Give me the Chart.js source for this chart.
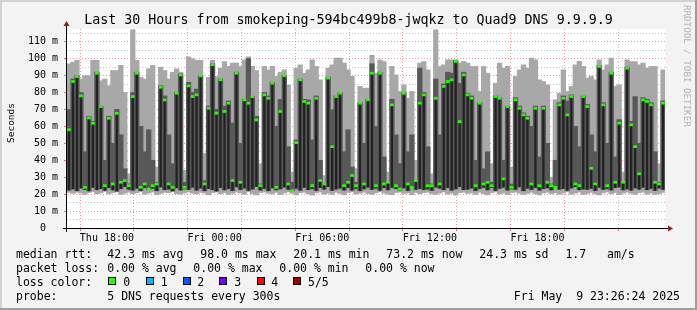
<!DOCTYPE html>
<html>
<head>
<meta charset="utf-8">
<script src="https://cdn.jsdelivr.net/npm/chart.js@4.4.1/dist/chart.umd.min.js"></script>
<style>
    body { margin: 0; background: #f3f3f3; }
    #wrap { position: relative; width: 697px; height: 310px; overflow: hidden; background: #f3f3f3; }
    #smoke { position: absolute; left: 0; top: 0; }
    .txt { position: absolute; font-family: 'DejaVu Sans Mono', monospace; white-space: pre; color: #000; line-height: 1; }
    .lg { font-size: 11.5px; }
    .box { position: absolute; width: 8px; height: 8px; box-sizing: border-box; border: 1px solid #000; }
    .edge { position: absolute; }
</style>
</head>
<body>
<div id="wrap">
    <canvas id="smoke" width="697" height="310"></canvas>

    <div class="edge" style="left:0;top:0;width:697px;height:2px;background:#d2d2d2"></div>
    <div class="edge" style="left:0;top:0;width:2px;height:310px;background:#d2d2d2"></div>
    <div class="edge" style="left:695px;top:0;width:2px;height:310px;background:#9e9e9e"></div>
    <div class="edge" style="left:0;top:308px;width:697px;height:2px;background:#9e9e9e"></div>

    <div class="txt" style="left:0;width:697px;text-align:center;top:12.6px;font-size:13.3px">Last 30 Hours from smokeping-594bc499b8-jwqkz to Quad9 DNS 9.9.9.9</div>
    <div class="txt" style="left:10.5px;top:122.5px;font-size:9.5px;transform:translate(-50%,-50%) rotate(-90deg)">Seconds</div>
    <div class="txt" style="left:683px;top:5px;font-size:9.2px;color:#b4b4b4;writing-mode:vertical-rl">RRDTOOL / TOBI OETIKER</div>

    <div class="txt lg" style="left:16px;top:249.3px">median rtt:</div>
    <div class="txt lg" style="left:107.3px;top:249.3px">42.3 ms avg</div>
    <div class="txt lg" style="left:200.3px;top:249.3px">98.0 ms max</div>
    <div class="txt lg" style="left:293.3px;top:249.3px">20.1 ms min</div>
    <div class="txt lg" style="left:386.3px;top:249.3px">73.2 ms now</div>
    <div class="txt lg" style="left:479.3px;top:249.3px">24.3 ms sd</div>
    <div class="txt lg" style="left:565.4px;top:249.3px">1.7</div>
    <div class="txt lg" style="left:607px;top:249.3px">am/s</div>

    <div class="txt lg" style="left:16px;top:262.8px">packet loss:</div>
    <div class="txt lg" style="left:107.3px;top:262.8px">0.00 % avg</div>
    <div class="txt lg" style="left:193.3px;top:262.8px">0.00 % max</div>
    <div class="txt lg" style="left:279.3px;top:262.8px">0.00 % min</div>
    <div class="txt lg" style="left:365.3px;top:262.8px">0.00 % now</div>

    <div class="txt lg" style="left:16px;top:276.8px">loss color:</div>
    <div id="lossLegend"></div>

    <div class="txt lg" style="left:16px;top:290.8px">probe:</div>
    <div class="txt lg" style="left:107.3px;top:290.8px">5 DNS requests every 300s</div>
    <div class="txt lg" style="right:17px;top:290.8px">Fri May  9 23:26:24 2025</div>
</div>
<script>
// one column = 12 minutes, starting Thu 17:26:24 (minutes relative to Thu 18:00)
const slotStartMin = -33.6;
const slotMinutes = 12;

// top of the light smoke (slowest ping), ms
const maxRtt = [
    97, 98, 99, 88, 90, 90, 99, 99, 87, 88,
    84, 93, 93, 96, 80, 32, 117, 99, 89, 88,
    94, 96, 36, 95, 93, 88, 92, 94, 92, 34,
    101, 100, 99, 99, 44, 89, 99, 89.5, 94.4, 98.3,
    95.4, 97.4, 97.4, 95.4, 99.3, 101, 95.4, 93, 38, 95.4,
    93.4, 95.4, 89.5, 92, 93.4, 84.5, 33, 94.4, 96.4, 91.4,
    93.4, 99.3, 95.4, 87.5, 31, 94.4, 96.4, 100.3, 100.3, 97.4,
    93.4, 89.5, 35, 83.6, 82.6, 82.6, 102, 91.4, 99.3, 98.3,
    33, 95.4, 90.4, 80.6, 84.5, 76.6, 80.6, 40, 97.4, 98.3,
    93.4, 32, 117, 95.4, 96.4, 99.3, 99.3, 99.3, 97.4, 98.4,
    97.4, 95.4, 95.4, 80.6, 95.4, 91.4, 38, 85.5, 97.4, 94.4,
    95.4, 36, 89.5, 93.4, 96.4, 94.4, 100.3, 99.3, 87.5, 86.5,
    84.5, 30, 75.7, 79.6, 93.4, 80.6, 83.6, 96.4, 98.4, 95.4,
    88.5, 89.5, 87.5, 99.3, 93.4, 96.4, 100.3, 83.6, 84.5, 33,
    99.3, 98.3, 98.3, 96.4, 97.4, 94.4, 95.4, 95.4, 38, 93.4
];

// top of the dark smoke, ms
const upRtt = [
    70, 88, 90, 80, 45, 66, 63, 92, 72, 40,
    66, 50, 70, 55, 35, 26, 80, 92, 60, 45,
    58, 40, 27, 84, 78, 55, 38, 80, 91, 27,
    86, 80, 82, 90, 28, 72, 97, 70, 88, 72,
    75, 62, 92, 50, 76, 100, 77.6, 66, 26, 80,
    78, 86, 60, 76, 90, 48, 27, 52, 88, 76,
    75.7, 52, 78, 40, 26, 89, 69.8, 78, 80, 45,
    58, 36, 27, 74, 50, 76, 97, 60, 92, 42,
    27, 76, 55, 38, 80, 45, 55, 28, 94.4, 80,
    48, 26, 88, 55, 85, 92, 91.4, 99, 85.5, 92,
    79.6, 78, 40, 74, 35, 45, 27, 78, 77, 40,
    72, 26, 77, 72, 68, 66, 60, 72, 42, 72,
    50, 26, 40, 74, 78, 75, 78.6, 60, 48, 78,
    73, 55, 45, 96, 74, 50, 92, 42, 64, 27,
    95, 63, 77.6, 50, 77, 76, 74, 45, 27, 75
];

// median rtt (green marks), ms
const medRtt = [
    58, 86.5, 89.4, 78, 24, 65, 61.8, 91.4, 71.7, 25,
    64.8, 26, 67.7, 27, 28, 25, 77.6, 91.4, 24, 26,
    23, 25, 26, 83.1, 75.6, 26, 24, 79.6, 90.4, 24,
    83.9, 77.6, 78.6, 89.8, 26, 70.7, 96.4, 67.8, 87.5, 68.8,
    73.7, 28, 91.4, 27, 75.7, 73.7, 77.6, 63.8, 25, 78.6,
    76.6, 85.5, 24, 68.8, 89.9, 26, 22, 50.4, 87.5, 74.7,
    73.7, 25, 76.6, 28, 26, 88.5, 48, 77.6, 79.6, 25,
    27, 31, 25, 73.7, 26, 75.7, 91.4, 25, 91.4, 26,
    27, 72.7, 25, 23, 79.6, 26, 24, 28, 73.7, 78.6,
    25, 25, 76.6, 26, 83.6, 86.5, 87.5, 98.4, 62.8, 90.4,
    78.6, 76.6, 25, 73.7, 26, 27, 25, 77.6, 76.6, 29,
    71.7, 24, 75.7, 70.7, 66.8, 64.8, 26, 70.7, 25, 70.7,
    27, 25, 24, 72.7, 76.6, 66.8, 77.6, 26, 25, 77.6,
    71.7, 35.2, 26, 95.4, 72.7, 25, 91.4, 27, 61.9, 27,
    94.4, 60.9, 48, 32, 75.7, 74.7, 72.7, 27, 26, 73.7
];

// bottom of the dark smoke, ms
const lowRtt = [
    22.4, 23.1, 22.0, 23.6, 22.8, 21.9, 24.0, 22.6, 23.3, 22.2,
    23.8, 22.5, 21.8, 23.2, 24.4, 22.9, 22.3, 23.5, 22.1, 23.9,
    22.7, 23.4, 22.0, 24.2, 22.6, 23.0, 21.9, 23.7, 22.4, 23.1,
    22.8, 24.1, 22.3, 23.5, 22.0, 23.3, 22.6, 21.8, 23.9, 22.5,
    23.2, 22.1, 24.3, 22.7, 23.6, 22.2, 23.0, 24.5, 22.4, 23.4,
    22.0, 23.7, 22.5, 23.1, 24.2, 22.8, 21.9, 23.5, 22.3, 24.0,
    22.6, 23.3, 22.1, 23.8, 22.9, 24.4, 22.2, 23.0, 23.6, 22.4,
    23.9, 22.3, 23.4, 22.0, 23.1, 24.1, 22.7, 23.5, 22.2, 23.8,
    22.5, 24.0, 23.2, 22.4, 23.7, 22.1, 24.3, 22.8, 23.3, 22.6,
    23.0, 22.2, 24.2, 23.5, 22.6, 23.9, 22.3, 23.1, 24.4, 22.7,
    22.9, 23.6, 22.1, 23.3, 24.0, 22.5, 23.8, 22.2, 23.4, 24.1,
    22.4, 23.1, 22.8, 24.3, 22.0, 23.5, 22.7, 23.9, 22.3, 23.2,
    23.7, 22.5, 24.1, 22.9, 23.3, 22.2, 23.6, 24.4, 22.6, 23.0,
    22.8, 23.4, 22.1, 24.0, 22.7, 23.2, 22.4, 23.8, 24.2, 22.5,
    23.1, 22.3, 23.7, 22.9, 24.1, 22.6, 23.4, 22.2, 23.6, 22.8
];

// bottom of the light smoke (fastest ping), ms
const minRtt = [
    21.0, 20.4, 21.2, 20.6, 19.8, 20.9, 21.4, 20.2, 20.7, 21.6,
    20.1, 20.8, 21.3, 19.9, 20.5, 21.1, 20.3, 20.9, 21.5, 20.0,
    20.6, 21.2, 19.7, 20.4, 21.0, 20.8, 21.4, 20.2, 19.9, 20.7,
    21.3, 20.5, 20.1, 21.0, 20.6, 19.6, 20.9, 21.2, 20.3, 20.8,
    19.8, 20.4, 21.1, 20.7, 20.0, 21.5, 20.2, 19.5, 20.9, 21.2,
    20.5, 20.1, 21.0, 19.7, 20.6, 21.3, 20.4, 19.6, 20.8, 21.1,
    20.2, 19.4, 20.7, 21.2, 20.0, 20.6, 19.8, 21.0, 20.4, 19.5,
    20.9, 21.3, 20.1, 20.5, 21.1, 20.3, 19.9, 20.8, 21.4, 20.6,
    20.0, 19.7, 20.9, 21.2, 20.4, 20.7, 19.6, 21.0, 20.3, 20.8,
    21.1, 20.2, 19.8, 20.6, 21.3, 20.0, 20.5, 19.4, 20.9, 21.2,
    20.4, 20.7, 19.9, 21.0, 20.3, 19.6, 20.8, 21.3, 20.1, 20.6,
    19.7, 20.9, 21.2, 20.5, 19.8, 20.4, 21.0, 20.2, 19.5, 20.7,
    21.1, 20.3, 20.8, 19.9, 20.6, 21.4, 20.0, 20.5, 21.2, 19.8,
    20.4, 21.0, 20.1, 19.6, 20.7, 21.3, 20.2, 20.9, 19.7, 20.5,
    21.1, 20.4, 19.9, 20.8, 21.2, 20.0, 20.6, 19.8, 20.3, 21.0
];

// x axis: labelled ticks (minutes from Thu 18:00)
const tickValues = [0, 360, 720, 1080, 1440];
const tickLabels = ['Thu 18:00', 'Fri 00:00', 'Fri 06:00', 'Fri 12:00', 'Fri 18:00'];

// loss colour legend
const lossLabels = ['0', '1', '2', '3', '4', '5/5'];
const lossColors = ['#26ff00', '#00b8ff', '#0059ff', '#7e00ff', '#ff0000', '#a00000'];
const lossBoxX = [108.3, 145.7, 182.7, 219.3, 256.7, 293.3];
const lossTextX = [123.3, 160.7, 197.3, 234.3, 271.3, 308];

const lossLegend = document.getElementById('lossLegend');
lossLabels.forEach(function (label, i) {
    const box = document.createElement('div');
    box.className = 'box';
    box.style.left = lossBoxX[i] + 'px';
    box.style.top = '277px';
    box.style.background = lossColors[i];
    lossLegend.appendChild(box);
    const t = document.createElement('div');
    t.className = 'txt lg';
    t.style.left = lossTextX[i] + 'px';
    t.style.top = '276.8px';
    t.textContent = label;
    lossLegend.appendChild(t);
});

const dayNames = ['Thu', 'Fri'];
const slotLabels = maxRtt.map(function (_, i) {
    const m = slotStartMin + 18 * 60 + i * slotMinutes;
    const d = Math.floor(m / 1440);
    const mm = Math.floor(m - d * 1440);
    return dayNames[d] + ' ' + String(Math.floor(mm / 60)).padStart(2, '0') + ':' + String(mm % 60).padStart(2, '0');
});

const hourTicks = [];
for (let h = 0; h <= 1740; h += 60) hourTicks.push(h);

const majorGrid = 'rgba(225, 90, 90, 0.6)';
const minorGrid = 'rgba(150, 150, 150, 0.55)';
const monoFont = { family: 'DejaVu Sans Mono', size: 10 };

// white plot area, axis lines and arrows like rrdtool
const framePlugin = {
    id: 'frame',
    beforeDraw: function (chart) {
        const a = chart.chartArea;
        const c = chart.ctx;
        c.save();
        c.fillStyle = '#ffffff';
        c.fillRect(a.left, a.top, a.right - a.left, a.bottom - a.top);
        c.restore();
    },
    afterDraw: function (chart) {
        const a = chart.chartArea;
        const c = chart.ctx;
        c.save();
        c.strokeStyle = '#000000';
        c.lineWidth = 1;
        c.beginPath();
        c.moveTo(a.left - 4, a.bottom + 0.5);
        c.lineTo(a.right + 4, a.bottom + 0.5);
        c.moveTo(a.left - 0.5, a.bottom + 4);
        c.lineTo(a.left - 0.5, a.top - 4);
        c.stroke();
        c.fillStyle = '#a01818';
        c.beginPath();
        c.moveTo(a.right + 8, a.bottom + 0.5);
        c.lineTo(a.right + 3, a.bottom - 2.5);
        c.lineTo(a.right + 3, a.bottom + 3.5);
        c.closePath();
        c.fill();
        c.beginPath();
        c.moveTo(a.left - 0.5, a.top - 8);
        c.lineTo(a.left - 3.5, a.top - 3);
        c.lineTo(a.left + 2.5, a.top - 3);
        c.closePath();
        c.fill();
        c.restore();
    }
};

new Chart(document.getElementById('smoke'), {
    type: 'bar',
    data: {
        labels: slotLabels,
        datasets: [
            {
                label: 'smoke outer',
                data: maxRtt.map(function (v, i) { return [minRtt[i], v]; }),
                backgroundColor: '#a8a8a8',
                barThickness: 4.6,
                grouped: false,
                order: 4
            },
            {
                label: 'smoke inner',
                data: upRtt.map(function (v, i) { return [lowRtt[i], v]; }),
                backgroundColor: '#585858',
                barThickness: 4.6,
                grouped: false,
                order: 3
            },
            {
                label: 'core',
                data: medRtt.map(function (v, i) { return [lowRtt[i], v]; }),
                backgroundColor: '#222222',
                barThickness: 1.6,
                grouped: false,
                order: 2
            },
            {
                label: 'median rtt',
                data: medRtt.map(function (v) { return [v - 0.6, v + 0.6]; }),
                backgroundColor: '#26ff00',
                barThickness: 3,
                grouped: false,
                order: 1
            }
        ]
    },
    options: {
        responsive: false,
        animation: false,
        devicePixelRatio: 1,
        events: [],
        layout: { padding: { top: 29, right: 32, left: 0, bottom: 0 } },
        plugins: {
            legend: { display: false },
            tooltip: { enabled: false },
            title: { display: false }
        },
        scales: {
            x: {
                type: 'category',
                display: false,
                offset: true
            },
            time: {
                type: 'linear',
                position: 'bottom',
                min: slotStartMin,
                max: slotStartMin + 1800,
                afterBuildTicks: function (scale) {
                    scale.ticks = hourTicks.map(function (v) { return { value: v }; });
                },
                afterFit: function (scale) { scale.height = 82; },
                border: { display: false, dash: [1, 2] },
                grid: {
                    color: function (c) { return c.tick && c.tick.value % 180 === 0 ? majorGrid : minorGrid; },
                    tickColor: 'rgba(200, 60, 60, 0.7)',
                    tickLength: 3,
                    tickBorderDash: []
                },
                ticks: {
                    autoSkip: false,
                    maxRotation: 0,
                    padding: 1,
                    color: '#000',
                    font: monoFont,
                    callback: function (value) {
                        const k = tickValues.indexOf(value);
                        return k >= 0 ? tickLabels[k] : '';
                    }
                }
            },
            y: {
                type: 'linear',
                min: 0,
                max: 117.5,
                afterFit: function (scale) { scale.width = 67; },
                border: { display: false, dash: [1, 2] },
                grid: {
                    color: function (c) { return c.tick && c.tick.value % 10 === 0 ? majorGrid : minorGrid; },
                    tickColor: function (c) { return c.tick && c.tick.value % 10 === 0 ? 'rgba(200, 60, 60, 0.7)' : 'rgba(0,0,0,0)'; },
                    tickLength: 3,
                    tickBorderDash: []
                },
                ticks: {
                    stepSize: 5,
                    includeBounds: false,
                    autoSkip: false,
                    padding: 6,
                    color: '#000',
                    font: monoFont,
                    callback: function (value) {
                        if (value % 10 !== 0) return '';
                        return value === 0 ? '0  ' : value + ' m';
                    }
                }
            }
        }
    },
    plugins: [framePlugin]
});
</script>
</body>
</html>
